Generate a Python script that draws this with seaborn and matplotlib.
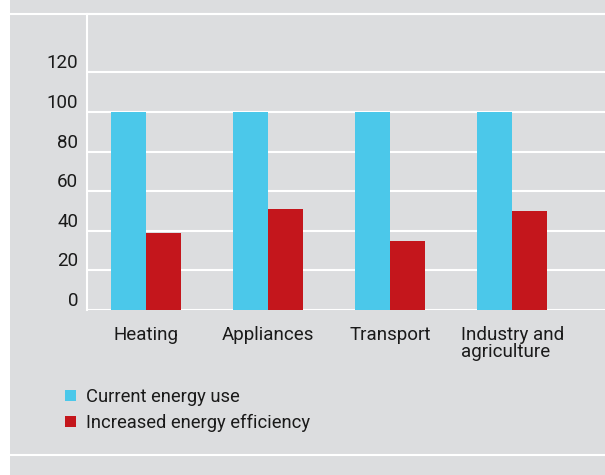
import matplotlib.pyplot as plt
import pandas as pd
import seaborn as sns
from matplotlib.lines import Line2D
from matplotlib.patches import Rectangle

sns.set_style('white')
plt.rcParams['font.family'] = ['Roboto', 'DejaVu Sans']

sectors = ["Heating", "Appliances", "Transport", "Industry and\nagriculture"]
current_use = [100, 100, 100, 100]
increased_efficiency = [39, 51, 35, 50]
series_names = ["Current energy use", "Increased energy efficiency"]
y_ticks = [0, 20, 40, 60, 80, 100, 120]

df = pd.DataFrame({
    "Sector": sectors,
    series_names[0]: current_use,
    series_names[1]: increased_efficiency,
}).melt(id_vars="Sector", var_name="Series", value_name="Value")

bg = '#dcdddf'
cyan = '#4bc8ea'
red = '#c4161c'
txt = '#1a1a1a'
W, H = 605, 475

fig = plt.figure(figsize=(W / 100, H / 100), dpi=100, facecolor='white')
fig.patches.append(Rectangle((10 / W, 0), 1, 1, transform=fig.transFigure,
                             facecolor=bg, edgecolor='none', zorder=-10))

ax = fig.add_axes([87 / W, (H - 310) / H, (W - 87) / W, (310 - 14) / H])
ax.set_facecolor(bg)
sns.barplot(data=df, x="Sector", y="Value", hue="Series", palette=[cyan, red],
            width=0.574, gap=0, saturation=1, linewidth=0, ax=ax)

ax.set_xlim(-0.484, 3.76)
ax.set_ylim(0, 149.5)
ax.set_yticks(y_ticks)
ax.yaxis.grid(True, color='white', lw=1.5)
ax.set_axisbelow(True)
for side in ['right', 'bottom']:
    ax.spines[side].set_visible(False)
for side in ['top', 'left']:
    ax.spines[side].set_color('white')
    ax.spines[side].set_linewidth(1.5)

ax.tick_params(axis='y', length=55.4, width=1.5, color='white', pad=-49,
               labelsize=13.5, labelcolor=txt)
ax.tick_params(axis='x', length=0, pad=11.5, labelsize=13.5, labelcolor=txt)
for lbl in ax.get_yticklabels():
    lbl.set_verticalalignment('bottom')
for lbl in ax.get_xticklabels():
    lbl.set_multialignment('left')
    lbl.set_linespacing(0.9)
ax.set_xlabel('')
ax.set_ylabel('')

sns.move_legend(ax, 'center left', bbox_to_anchor=(65 / W, (H - 410) / H),
                bbox_transform=fig.transFigure, title=None, frameon=False,
                fontsize=13.2, handlelength=0.6, handleheight=0.6,
                handletextpad=0.55, labelspacing=0.42, borderpad=0,
                borderaxespad=0, labelcolor=txt)

fig.add_artist(Line2D([10 / W, 1], [(H - 14) / H] * 2, color='white', lw=1.5,
                      transform=fig.transFigure))
fig.add_artist(Line2D([10 / W, 1], [(H - 455) / H] * 2, color='white', lw=1.5,
                      transform=fig.transFigure))

fig.savefig('out.png', dpi=100, facecolor=fig.get_facecolor())
